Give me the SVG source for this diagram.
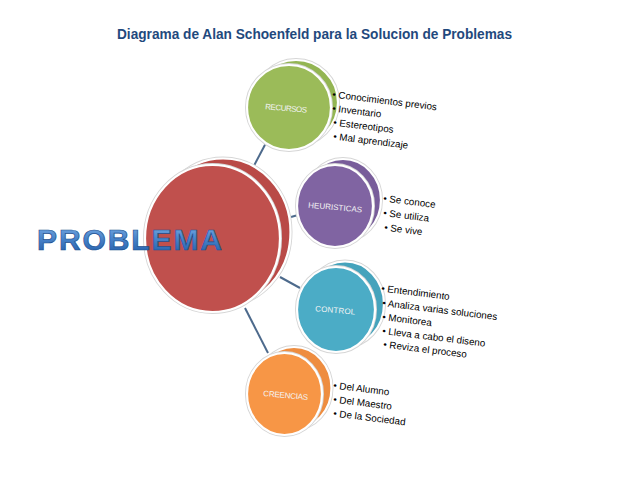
<svg xmlns="http://www.w3.org/2000/svg" width="638" height="479" viewBox="0 0 638 479">
<defs>
<linearGradient id="pg" x1="0" y1="0" x2="0" y2="1">
<stop offset="0" stop-color="#7fb0e6"/>
<stop offset="0.45" stop-color="#4a86cc"/>
<stop offset="1" stop-color="#1f5aa6"/>
</linearGradient>
<style>
.title{font-family:"Liberation Sans",Arial,sans-serif;font-weight:bold;font-size:14px;fill:#1f497d}
.big{font-family:"Liberation Sans",Arial,sans-serif;font-weight:bold;font-size:30px;fill:url(#pg);stroke:#1d4f8f;stroke-width:0.7}
.lbl{font-family:"Liberation Sans",Arial,sans-serif;font-size:8px;fill:#f4f4f4;text-anchor:middle}
.item{font-family:"Liberation Sans",Arial,sans-serif;font-size:9.8px;fill:#000}
.halo{fill:none;stroke:#d6d6d6;stroke-width:4}
.edge{stroke-width:2.2;stroke:#ffffff}
.conn line{stroke:#4d6a8c;stroke-width:2}
</style>
</defs>
<rect width="638" height="479" fill="#ffffff"/>
<text class="title" x="117" y="39" textLength="395" lengthAdjust="spacingAndGlyphs">Diagrama de Alan Schoenfeld para la Solucion de Problemas</text>
<g id="connectors" class="conn">
<line x1="249" y1="175" x2="267" y2="141"/>
<line x1="277" y1="221" x2="298" y2="215"/>
<line x1="280" y1="277" x2="300" y2="288"/>
<line x1="245" y1="308" x2="268" y2="353"/>
</g>
<g id="problema">
<ellipse cx="223" cy="232" rx="67.5" ry="73.5" class="halo"/>
<ellipse cx="223" cy="232" rx="67.5" ry="73.5" fill="#b94a47" class="edge"/>
<ellipse cx="212.5" cy="238.5" rx="67.5" ry="73.5" class="halo"/>
<ellipse cx="212.5" cy="238.5" rx="67.5" ry="73.5" fill="#c0504d" class="edge"/>
<text class="big" x="37" y="250" textLength="185" lengthAdjust="spacing">PROBLEMA</text>
</g>
<g id="recursos">
<ellipse cx="296" cy="102.5" rx="42" ry="42.5" class="halo"/>
<ellipse cx="296" cy="102.5" rx="42" ry="42.5" fill="#93b553" class="edge"/>
<ellipse cx="289" cy="107.5" rx="42" ry="42.5" class="halo"/>
<ellipse cx="289" cy="107.5" rx="42" ry="42.5" fill="#9bbb59" class="edge"/>
<text class="lbl" x="286" y="111" textLength="42" transform="rotate(5 286 111)">RECURSOS</text>
<text class="item" x="332" y="97.5" transform="rotate(7 332 97.5)">• Conocimientos previos</text>
<text class="item" x="332" y="111.5" transform="rotate(7 332 111.5)">• Inventario</text>
<text class="item" x="333" y="125.5" transform="rotate(7 333 125.5)">• Estereotipos</text>
<text class="item" x="333" y="139.5" transform="rotate(7 333 139.5)">• Mal aprendizaje</text>
</g>
<g id="heuristicas">
<ellipse cx="343" cy="200" rx="38" ry="41" class="halo"/>
<ellipse cx="343" cy="200" rx="38" ry="41" fill="#785d9a" class="edge"/>
<ellipse cx="335" cy="206" rx="38" ry="41" class="halo"/>
<ellipse cx="335" cy="206" rx="38" ry="41" fill="#8064a2" class="edge"/>
<text class="lbl" x="335" y="210" textLength="54" transform="rotate(5 335 210)">HEURISTICAS</text>
<text class="item" x="383" y="201.5" transform="rotate(7 383 201.5)">• Se conoce</text>
<text class="item" x="383" y="216" transform="rotate(7 383 216)">• Se utiliza</text>
<text class="item" x="384" y="230.5" transform="rotate(7 384 230.5)">• Se vive</text>
</g>
<g id="control">
<ellipse cx="345" cy="304" rx="39" ry="42.5" class="halo"/>
<ellipse cx="345" cy="304" rx="39" ry="42.5" fill="#45a3bc" class="edge"/>
<ellipse cx="336" cy="309.5" rx="39" ry="42.5" class="halo"/>
<ellipse cx="336" cy="309.5" rx="39" ry="42.5" fill="#4bacc6" class="edge"/>
<text class="lbl" x="335" y="313" textLength="40" transform="rotate(5 335 313)">CONTROL</text>
<text class="item" x="381" y="291.5" transform="rotate(7 381 291.5)">• Entendimiento</text>
<text class="item" x="382" y="306" transform="rotate(7 382 306)">• Analiza varias soluciones</text>
<text class="item" x="382" y="320" transform="rotate(7 382 320)">• Monitorea</text>
<text class="item" x="382" y="334" transform="rotate(7 382 334)">• Lleva a cabo el diseno</text>
<text class="item" x="383" y="347.5" transform="rotate(7 383 347.5)">• Reviza el proceso</text>
</g>
<g id="creencias">
<ellipse cx="294" cy="388" rx="37.5" ry="41" class="halo"/>
<ellipse cx="294" cy="388" rx="37.5" ry="41" fill="#ee8d40" class="edge"/>
<ellipse cx="284.5" cy="394" rx="37.5" ry="41" class="halo"/>
<ellipse cx="284.5" cy="394" rx="37.5" ry="41" fill="#f79646" class="edge"/>
<text class="lbl" x="285.5" y="398" textLength="45" transform="rotate(5 285.5 398)">CREENCIAS</text>
<text class="item" x="333" y="388.5" transform="rotate(7 333 388.5)">• Del Alumno</text>
<text class="item" x="333" y="402.5" transform="rotate(7 333 402.5)">• Del Maestro</text>
<text class="item" x="333" y="416.5" transform="rotate(7 333 416.5)">• De la Sociedad</text>
</g>
</svg>
